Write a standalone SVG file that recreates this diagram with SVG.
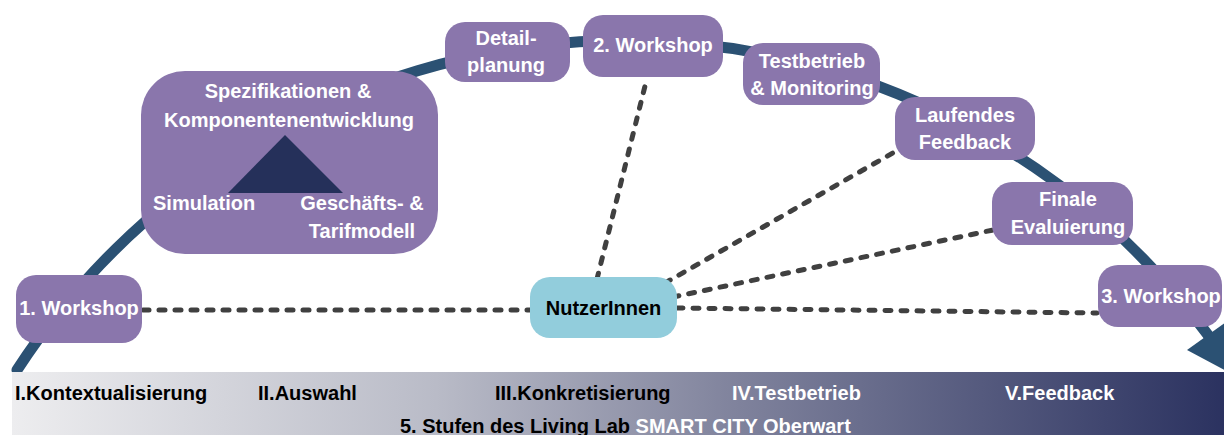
<svg xmlns="http://www.w3.org/2000/svg" width="1224" height="435" viewBox="0 0 1224 435">
  <defs>
    <linearGradient id="band" x1="0" y1="0" x2="1" y2="0">
      <stop offset="0" stop-color="#EDEDEF"/>
      <stop offset="0.35" stop-color="#B9BBC7"/>
      <stop offset="0.6" stop-color="#7F829C"/>
      <stop offset="1" stop-color="#2B3260"/>
    </linearGradient>
    <style>
      .box { fill: #8A76AC; }
      .user { fill: #92CDDC; }
      .t { font-family: "Liberation Sans", Arial, sans-serif; font-weight: bold; font-size: 20px; fill: #FFFFFF; }
      .tc { text-anchor: middle; }
      .dark { fill: #000000; }
      .dot { fill: none; stroke: #404040; stroke-width: 5; stroke-linecap: round; stroke-dasharray: 6 10; }
      .arc { fill: none; stroke: #2B5173; stroke-width: 11; stroke-linecap: round; }
    </style>
  </defs>

  <!-- timeline arc -->
  <g id="timeline">
    <path class="arc" d="M 17 370 A 725 725 0 0 1 1208 335"/>
    <polygon points="1187,350 1229,320 1241,379" fill="#2B5173"/>
  </g>

  <!-- bottom band -->
  <g id="band-bar">
    <rect x="12" y="372" width="1212" height="63" fill="url(#band)"/>
    <text class="t dark" x="15" y="400">I.Kontextualisierung</text>
    <text class="t dark" x="258" y="400">II.Auswahl</text>
    <text class="t dark" x="495" y="400">III.Konkretisierung</text>
    <text class="t" x="732" y="400">IV.Testbetrieb</text>
    <text class="t" x="1005" y="400">V.Feedback</text>
    <text class="t" x="400" y="433"><tspan class="dark">5. Stufen des Living Lab</tspan> SMART CITY Oberwart</text>
  </g>

  <!-- connectors -->
  <g id="connectors">
    <line class="dot" x1="143" y1="310" x2="530" y2="310"/>
    <line class="dot" x1="597" y1="279" x2="647" y2="78"/>
    <line class="dot" x1="665" y1="283" x2="898" y2="150"/>
    <line class="dot" x1="673" y1="297" x2="993" y2="230"/>
    <line class="dot" x1="677" y1="308" x2="1097" y2="313"/>
  </g>

  <!-- nodes -->
  <g id="workshop1">
    <rect class="box" x="16" y="275" width="126" height="68" rx="20"/>
    <text class="t tc" x="79" y="315">1. Workshop</text>
  </g>

  <g id="spezifikationen">
    <rect class="box" x="141" y="71" width="297" height="183" rx="44"/>
    <text class="t tc" x="288" y="98">Spezifikationen &amp;</text>
    <text class="t tc" x="289" y="127">Komponentenentwicklung</text>
    <polygon points="285,135 228,193 343,193" fill="#25305A"/>
    <text class="t" x="153" y="210">Simulation</text>
    <text class="t tc" x="362" y="210">Geschäfts- &amp;</text>
    <text class="t tc" x="362" y="238">Tarifmodell</text>
  </g>

  <g id="detailplanung">
    <rect class="box" x="445" y="22" width="125" height="60" rx="20"/>
    <text class="t tc" x="506" y="45">Detail-</text>
    <text class="t tc" x="506" y="72">planung</text>
  </g>

  <g id="workshop2">
    <rect class="box" x="583" y="15" width="140" height="62" rx="20"/>
    <text class="t tc" x="653" y="52">2. Workshop</text>
  </g>

  <g id="testbetrieb">
    <rect class="box" x="743" y="43" width="137" height="62" rx="20"/>
    <text class="t tc" x="812" y="68">Testbetrieb</text>
    <text class="t tc" x="812" y="95">&amp; Monitoring</text>
  </g>

  <g id="feedback">
    <rect class="box" x="895" y="97" width="140" height="63" rx="20"/>
    <text class="t tc" x="965" y="122">Laufendes</text>
    <text class="t tc" x="965" y="149">Feedback</text>
  </g>

  <g id="evaluierung">
    <rect class="box" x="992" y="182" width="141" height="63" rx="20"/>
    <text class="t tc" x="1068" y="206">Finale</text>
    <text class="t tc" x="1068" y="234">Evaluierung</text>
  </g>

  <g id="workshop3">
    <rect class="box" x="1098" y="265" width="124" height="62" rx="20"/>
    <text class="t tc" x="1161" y="303">3. Workshop</text>
  </g>

  <g id="nutzerinnen">
    <rect class="user" x="530" y="277" width="147" height="61" rx="20"/>
    <text class="t tc dark" x="603.5" y="315">NutzerInnen</text>
  </g>
</svg>
